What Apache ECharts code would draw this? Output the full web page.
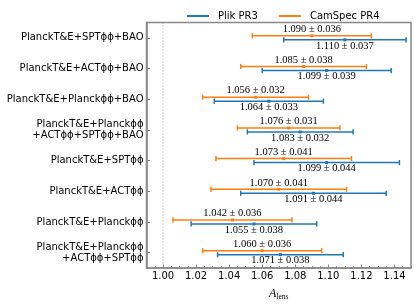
<!DOCTYPE html>
<html>
<head>
<meta charset="utf-8">
<script src="https://cdn.jsdelivr.net/npm/echarts@6/dist/echarts.min.js"></script>
<style>html,body{margin:0;padding:0;background:#fff}#c{width:415px;height:306px}</style>
</head>
<body>
<div id="c"></div>
<script>
const categories = [
  "PlanckT&E+SPTϕϕ+BAO",
  "PlanckT&E+ACTϕϕ+BAO",
  "PlanckT&E+Planckϕϕ+BAO",
  "PlanckT&E+Planckϕϕ\n+ACTϕϕ+SPTϕϕ+BAO",
  "PlanckT&E+SPTϕϕ",
  "PlanckT&E+ACTϕϕ",
  "PlanckT&E+Planckϕϕ",
  "PlanckT&E+Planckϕϕ\n+ACTϕϕ+SPTϕϕ"
];
const plikMean = [1.110, 1.099, 1.064, 1.083, 1.099, 1.091, 1.055, 1.071];
const plikErr  = [0.037, 0.039, 0.033, 0.032, 0.044, 0.044, 0.038, 0.038];
const camMean  = [1.090, 1.085, 1.056, 1.076, 1.073, 1.070, 1.042, 1.060];
const camErr   = [0.036, 0.038, 0.032, 0.031, 0.041, 0.041, 0.036, 0.036];
const xTicks = [1.00, 1.02, 1.04, 1.06, 1.08, 1.10, 1.12, 1.14];
const refLine = [1.00];

const BLUE = '#1f77b4', ORANGE = '#ff7f0e', SPINE = '#888';
const SERIF = '"Liberation Serif", "DejaVu Serif", serif';
const SANS = '"DejaVu Sans", sans-serif';

function errRenderer(color, dy, labelDy) {
  return function (params, api) {
    const i = api.value(0), m = api.value(1), e = api.value(2);
    const c = api.coord([m, i]);
    const lo = api.coord([m - e, i]);
    const hi = api.coord([m + e, i]);
    const y = c[1] + dy;
    const lw = 1.5, cap = 2.6;
    return {
      type: 'group',
      children: [
        {type: 'line', shape: {x1: lo[0], y1: y, x2: hi[0], y2: y}, style: {stroke: color, lineWidth: lw}},
        {type: 'line', shape: {x1: lo[0], y1: y - cap, x2: lo[0], y2: y + cap}, style: {stroke: color, lineWidth: lw}},
        {type: 'line', shape: {x1: hi[0], y1: y - cap, x2: hi[0], y2: y + cap}, style: {stroke: color, lineWidth: lw}},
        {type: 'rect', shape: {x: c[0] - 1.5, y: y - 1.5, width: 3, height: 3}, style: {fill: color}},
        {type: 'text', x: c[0], y: y + labelDy,
         style: {text: m.toFixed(3) + ' ± ' + e.toFixed(3), fill: '#000',
                 fontSize: 10.5, fontFamily: SERIF, align: 'center', verticalAlign: 'middle'}}
      ]
    };
  };
}

const chart = echarts.init(document.getElementById('c'), null, {renderer: 'canvas'});
chart.setOption({
  animation: false,
  backgroundColor: '#fff',
  grid: {left: 146.5, top: 22.5, width: 264.5, height: 252, show: true,
         borderColor: SPINE, borderWidth: 1.5, backgroundColor: 'transparent'},
  legend: {
    left: 182, top: 6, itemWidth: 22, itemHeight: 2, itemGap: 21,
    data: [{name: 'Plik PR3', icon: 'rect'}, {name: 'CamSpec PR4', icon: 'rect'}],
    textStyle: {fontSize: 10, fontFamily: SANS, color: '#000', padding: [0, 0, 0, 4]}
  },
  xAxis: [{
    type: 'value', min: 0.99, max: 1.15, position: 'bottom',
    axisLine: {show: true, lineStyle: {color: SPINE, width: 1.5}},
    axisTick: {show: true, inside: true, length: 3.5, customValues: xTicks, lineStyle: {color: SPINE}},
    axisLabel: {customValues: xTicks, formatter: v => v.toFixed(2), fontSize: 10,
                fontFamily: SANS, color: '#000', margin: 3},
    splitLine: {show: false},
    name: '{a|A}{s|lens}', nameLocation: 'middle', nameGap: 19,
    nameTextStyle: {rich: {
      a: {fontSize: 12, fontFamily: SERIF, fontStyle: 'italic', color: '#000'},
      s: {fontSize: 7.5, fontFamily: SERIF, color: '#000', padding: [6, 0, 0, 0]}
    }}
  }, {
    type: 'value', min: 0.99, max: 1.15, interval: 0.005, position: 'bottom', gridIndex: 0,
    axisLine: {show: false},
    axisTick: {show: true, inside: true, length: 2, lineStyle: {color: SPINE}},
    axisLabel: {show: false},
    splitLine: {show: false}
  }],
  yAxis: {
    type: 'category', data: categories, inverse: true,
    axisLine: {show: true, lineStyle: {color: SPINE, width: 1.5}},
    axisTick: {show: true, inside: true, alignWithLabel: true, length: 3.5, lineStyle: {color: SPINE}},
    axisLabel: {fontSize: 10, fontFamily: SANS, color: '#000', margin: 3, lineHeight: 11, align: 'right'},
    splitLine: {show: false}
  },
  series: [
    {
      type: 'custom', name: 'ref', xAxisIndex: 0, yAxisIndex: 0,
      data: refLine.map(v => [v]),
      encode: {x: 0},
      renderItem: function (params, api) {
        const cs = params.coordSys;
        const x = api.coord([api.value(0), 0])[0];
        return {type: 'line', shape: {x1: x, y1: cs.y, x2: x, y2: cs.y + cs.height},
                style: {stroke: '#999', lineWidth: 1, lineDash: [1, 2]}};
      },
      silent: true
    },
    {
      type: 'custom', name: 'Plik PR3', itemStyle: {color: BLUE},
      data: plikMean.map((m, i) => [i, m, plikErr[i]]),
      encode: {x: 1, y: 0},
      renderItem: errRenderer(BLUE, 2, 6)
    },
    {
      type: 'custom', name: 'CamSpec PR4', itemStyle: {color: ORANGE},
      data: camMean.map((m, i) => [i, m, camErr[i]]),
      encode: {x: 1, y: 0},
      renderItem: errRenderer(ORANGE, -2, -6.5)
    }
  ]
});
</script>
</body>
</html>
